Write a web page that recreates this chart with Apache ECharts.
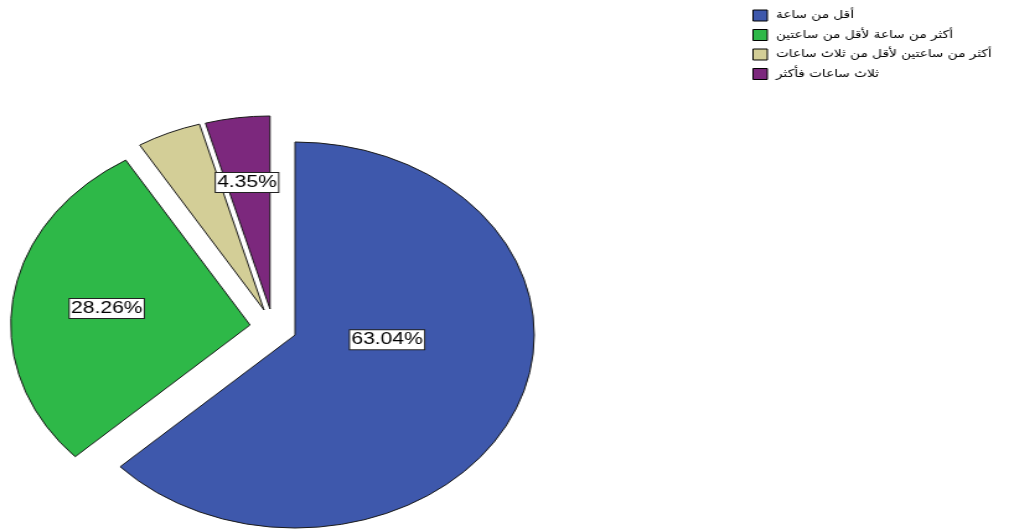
<!DOCTYPE html>
<html>
<head>
<meta charset="utf-8">
<script src="https://cdn.jsdelivr.net/npm/echarts@6/dist/echarts.min.js"></script>
<style>
  html, body { margin: 0; padding: 0; background: #fff; overflow: hidden; }
  #wrap { width: 1009px; height: 531px; overflow: hidden; }
  #chart { width: 814px; height: 531px; transform-origin: 0 0; }
</style>
</head>
<body>
<div id="wrap"><div id="chart"></div></div>
<script>
// Time spent categories and respondent counts
const categories = [
  'أقل من ساعة',
  'أكثر من ساعة لأقل من ساعتين',
  'أكثر من ساعتين لأقل من ثلاث ساعات',
  'ثلاث ساعات فأكثر'
];
const counts = [29, 13, 2, 2];

// Styling / layout (kept separate from the data)
const colors = ['#3E58AC', '#2EB848', '#D3CE97', '#7C287D'];
const showLabel = [true, true, false, true];
const sliceCenters = [[238, 335], [201.7, 325], [213, 310], [217.8, 309]];
const labelOffsets = [[-17, -35], [-17, -3], [0, 0], [-5, -28]];
const RADIUS = 193;

// The pie is drawn on a narrower canvas and widened horizontally into an ellipse
const W = 814;
const S = 1009 / W;
document.getElementById('chart').style.transform = 'scaleX(' + S + ')';

const total = counts.reduce((a, b) => a + b, 0);
const hidden = {
  itemStyle: { color: 'rgba(0,0,0,0)', borderWidth: 0 },
  label: { show: false },
  emphasis: { disabled: true }
};

// One pie per slice so each exploded wedge gets its own centre;
// the other categories are carried as invisible spacer items.
const series = categories.map((name, i) => {
  const before = counts.slice(0, i).reduce((a, b) => a + b, 0);
  const after = total - before - counts[i];
  return {
    type: 'pie',
    center: sliceCenters[i],
    radius: RADIUS,
    startAngle: 90,
    clockwise: true,
    animation: false,
    silent: true,
    avoidLabelOverlap: false,
    minAngle: 0,
    label: {
      show: showLabel[i],
      position: 'inside',
      formatter: '{d}%',
      color: '#000',
      fontFamily: 'Liberation Sans, Arial, sans-serif',
      fontSize: 17,
      backgroundColor: '#fff',
      borderColor: '#222',
      borderWidth: 1,
      padding: [2, 1, 0, 1],
      offset: labelOffsets[i]
    },
    labelLine: { show: false },
    emphasis: { disabled: true },
    itemStyle: { borderColor: '#1a1a1a', borderWidth: 1 },
    data: [
      Object.assign({ name: '_a' + i, value: before }, hidden),
      { name: name, value: counts[i], itemStyle: { color: colors[i] } },
      Object.assign({ name: '_b' + i, value: after }, hidden)
    ]
  };
});

const chart = echarts.init(document.getElementById('chart'), null, { renderer: 'canvas' });
chart.setOption({
  backgroundColor: '#fff',
  animation: false,
  tooltip: { show: false },
  legend: {
    data: categories,
    orient: 'vertical',
    left: 607,
    top: 9.5,
    itemWidth: 11.5,
    itemHeight: 11,
    itemGap: 7.5,
    padding: 0,
    icon: 'rect',
    selectedMode: false,
    itemStyle: { borderColor: '#000', borderWidth: 1 },
    textStyle: {
      fontFamily: 'DejaVu Sans, sans-serif',
      fontSize: 11,
      color: '#000',
      padding: [0, 0, 0, 2]
    }
  },
  series: series
});
</script>
</body>
</html>
